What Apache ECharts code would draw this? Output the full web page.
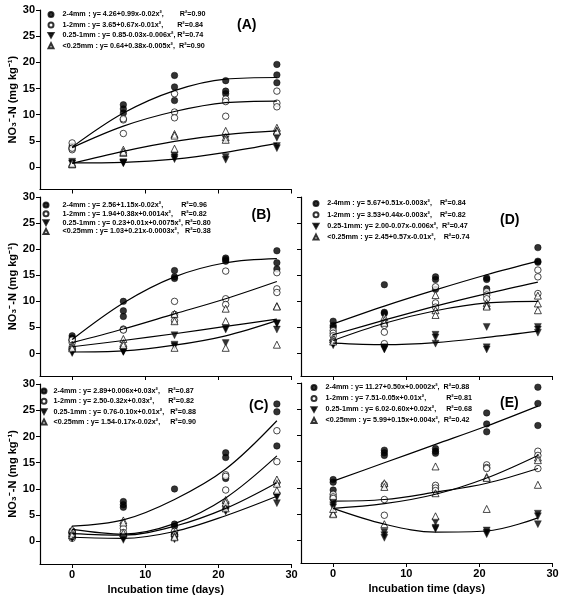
<!DOCTYPE html>
<html>
<head>
<meta charset="utf-8">
<script src="https://cdn.jsdelivr.net/npm/echarts@6/dist/echarts.min.js"></script>
<style>
html,body{margin:0;padding:0;background:#fff;}
#chart{width:563px;height:600px;}
</style>
</head>
<body>
<div id="chart"></div>
<script>
// ---------- data ----------
const days = [0, 7, 14, 21, 28];
const xTicks = [0, 10, 20, 30];
const yTicks = [0, 5, 10, 15, 20, 25, 30];
const classes = ['2-4mm', '1-2mm', '0.25-1mm', '<0.25mm'];

// Panel A (replicates per incubation day)
const A_24    = [[3.7,4.0,3.5],[11.9,11.1,10.3],[17.5,15.3,12.7],[16.5,14.5,14.0],[19.6,17.6,16.1]];
const A_12    = [[4.6,3.3,3.6],[9.0,6.4,9.2],[14.0,10.5,9.4],[13.0,12.5,9.7],[14.5,12.2,11.5]];
const A_025_1 = [[1.0,0.7,0.6],[0.8,0.7,0.9],[2.2,1.8,1.5],[1.9,1.4,5.3],[5.6,4.0,3.6]];
const A_lt025 = [[0.5,0.8,0.6],[3.3,2.7,2.9],[6.3,6.0,3.5],[6.9,5.7,5.2],[7.5,7.0,6.8]];
const A_fit_24 = [3.8, 10.3, 14.6, 16.8, 17.1];
const A_fit_12 = [3.7, 7.8, 10.6, 12.3, 12.6];
const A_fit_025_1 = [0.8, 0.9, 1.5, 2.8, 4.5];
const A_fit_lt025 = [0.7, 3.0, 4.9, 6.2, 6.9];
const legendA = [
  '2-4mm：y= 4.26+0.99x-0.02x²,        R²=0.90',
  '1-2mm : y= 3.65+0.67x-0.01x²,       R²=0.84',
  '0.25-1mm : y= 0.85-0.03x-0.006x², R²=0.74',
  '<0.25mm : y= 0.64+0.38x-0.005x²,  R²=0.90'
];

// Panel B
const B_24    = [[3.4,3.0,2.7],[10.0,8.2,7.1],[15.9,14.7,14.4],[18.3,18.0,17.7],[19.7,17.4,16.2]];
const B_12    = [[2.5,2.1,2.6],[4.7,4.6,4.5],[10.0,7.5,6.3],[15.8,10.5,9.4],[15.5,12.4,11.7]];
const B_025_1 = [[0.8,0.3,0.1],[0.4,0.3,0.5],[3.5,1.7,1.4],[4.9,4.6,2.0],[5.7,4.6,5.8]];
const B_lt025 = [[1.7,1.3,1.0],[2.8,2.0,1.6],[7.6,6.2,1.1],[8.6,6.2,1.1],[9.1,9.0,1.7]];
const B_fit_24 = [2.7, 9.7, 14.7, 17.4, 18.2];
const B_fit_12 = [2.1, 4.7, 7.6, 10.5, 13.8];
const B_fit_025_1 = [0.3, 0.5, 1.6, 3.4, 6.3];
const B_fit_lt025 = [1.3, 2.5, 3.8, 5.2, 6.6];
const legendB = [
  '2-4mm : y= 2.56+1.15x-0.02x²,         R²=0.96',
  '1-2mm : y= 1.94+0.38x+0.0014x²,    R²=0.82',
  '0.25-1mm : y= 0.23+0.01x+0.0075x², R²=0.80',
  '<0.25mm : y= 1.03+0.21x-0.0003x²,   R²=0.38'
];

// Panel C
const C_24    = [[2.0,1.7,1.5],[7.6,7.0,6.5],[10.0,3.3,2.9],[16.9,16.0,12.0],[26.2,24.7,18.2]];
const C_12    = [[1.9,0.6,0.9],[2.5,1.7,1.0],[1.9,1.3,1.1],[12.7,12.4,9.8],[21.1,15.2,11.2]];
const C_025_1 = [[1.0,0.6,0.8],[0.3,0.6,0.9],[0.4,0.7,1.0],[6.9,6.0,5.7],[8.7,8.4,7.3]];
const C_lt025 = [[2.3,1.6,1.2],[4.0,3.6,1.6],[1.6,1.0,0.8],[7.9,7.4,6.3],[11.8,11.0,9.7]];
const C_fit_24 = [2.9, 4.1, 8.0, 13.8, 23.0];
const C_fit_12 = [2.3, 1.4, 3.4, 8.3, 16.3];
const C_fit_025_1 = [0.8, 0.6, 1.9, 4.9, 8.6];
const C_fit_lt025 = [1.5, 1.2, 2.9, 6.3, 11.2];
const legendC = [
  '2-4mm : y= 2.89+0.006x+0.03x²,    R²=0.87',
  '1-2mm : y= 2.50-0.32x+0.03x²,       R²=0.82',
  '0.25-1mm : y= 0.76-0.10x+0.01x²,   R²=0.88',
  '<0.25mm : y= 1.54-0.17x-0.02x²,     R²=0.90'
];

// Panel D
const D_24    = [[6.2,5.4,5.0],[13.2,7.9,7.7],[14.7,14.2,12.3],[14.5,14.2,12.4],[20.3,17.7,17.5]];
const D_12    = [[4.4,3.9,3.4],[5.4,4.1,1.9],[12.8,9.7,8.9],[11.9,11.2,10.5],[16.0,14.7,11.5]];
const D_025_1 = [[1.9,1.6,2.0],[1.2,0.8,0.9],[3.6,3.1,1.9],[5.1,1.2,0.8],[5.1,4.6,4.0]];
const D_lt025 = [[3.1,2.7,2.3],[7.0,6.4,5.9],[11.2,8.3,7.4],[9.7,9.2,9.0],[11.1,9.6,8.3]];
const D_fit_24 = [5.7, 9.1, 12.2, 15.1, 17.7];
const D_fit_12 = [3.6, 6.4, 9.1, 11.5, 13.7];
const D_fit_025_1 = [2.0, 1.7, 2.1, 3.1, 4.3];
const D_fit_lt025 = [2.5, 5.8, 8.2, 9.7, 10.0];
const legendD = [
  '2-4mm : y= 5.67+0.51x-0.003x²,    R²=0.84',
  '1-2mm : y= 3.53+0.44x-0.003x²,    R²=0.82',
  '0.25-1mm: y= 2.00-0.07x-0.006x²,  R²=0.47',
  '<0.25mm : y= 2.45+0.57x-0.01x²,    R²=0.74'
];

// Panel E
const E_24    = [[11.6,11.1,9.6],[17.2,16.7,16.2],[17.5,17.0,16.6],[24.3,22.2,20.7],[29.2,26.1,21.9]];
const E_12    = [[8.8,8.3,8.0],[10.6,7.8,4.8],[10.5,10.0,9.5],[14.4,13.9,13.7],[17.0,16.2,13.7]];
const E_025_1 = [[7.2,6.7,6.3],[1.6,1.0,0.5],[3.5,2.4,2.2],[1.9,1.5,1.2],[5.1,4.6,3.1]];
const E_lt025 = [[5.2,5.0,6.0],[10.9,10.2,3.1],[14.1,9.0,4.6],[12.1,11.9,6.0],[15.8,15.3,10.6]];
const E_fit_24 = [11.3, 14.8, 18.3, 21.8, 25.6];
const E_fit_12 = [7.5, 7.8, 9.2, 10.9, 13.7];
const E_fit_025_1 = [6.1, 3.1, 1.6, 1.8, 4.3];
const E_fit_lt025 = [6.1, 7.0, 8.8, 11.9, 16.2];
const legendE = [
  '2-4mm : y= 11.27+0.50x+0.0002x²,  R²=0.88',
  '1-2mm : y= 7.51-0.05x+0.01x²,          R²=0.81',
  '0.25-1mm : y= 6.02-0.60x+0.02x²,     R²=0.68',
  '<0.25mm : y= 5.99+0.15x+0.004x²,  R²=0.42'
];

const yTitle = 'NO₃⁻-N (mg kg⁻¹)';
const xTitle = 'Incubation time (days)';

// ---------- layout ----------
const FONT = '"Liberation Sans", Arial, sans-serif';
const panels = [
  {tag:'(A)', grid:{left:40, top:10, width:251.5, height:179.5}, pts:[A_24,A_12,A_025_1,A_lt025], fit:[A_fit_24,A_fit_12,A_fit_025_1,A_fit_lt025], leg:legendA, lg:{left:47.5, top:11, gap:3.4, pad:4}, lab:{left:237, top:18.5}, yLab:true, xLab:false},
  {tag:'(B)', grid:{left:40, top:197, width:251.5, height:179}, pts:[B_24,B_12,B_025_1,B_lt025], fit:[B_fit_24,B_fit_12,B_fit_025_1,B_fit_lt025], leg:legendB, lg:{left:42.5, top:201.5, gap:1.8, pad:9}, lab:{left:251.5, top:208.5}, yLab:true, xLab:false},
  {tag:'(C)', grid:{left:40, top:384, width:251.5, height:180}, pts:[C_24,C_12,C_025_1,C_lt025], fit:[C_fit_24,C_fit_12,C_fit_025_1,C_fit_lt025], leg:legendC, lg:{left:40.5, top:387.5, gap:3.3, pad:2}, lab:{left:249, top:399}, yLab:true, xLab:true},
  {tag:'(D)', grid:{left:301, top:197, width:251.5, height:179}, pts:[D_24,D_12,D_025_1,D_lt025], fit:[D_fit_24,D_fit_12,D_fit_025_1,D_fit_lt025], leg:legendD, lg:{left:312.5, top:200, gap:4.2, pad:3.7}, lab:{left:500, top:213.5}, yLab:false, xLab:false},
  {tag:'(E)', grid:{left:301, top:383, width:251.5, height:180}, pts:[E_24,E_12,E_025_1,E_lt025], fit:[E_fit_24,E_fit_12,E_fit_025_1,E_fit_lt025], leg:legendE, lg:{left:310.5, top:384, gap:4.0, pad:4}, lab:{left:500, top:396}, yLab:false, xLab:true}
];

const symStyles = [
  {symbol:'circle', size:6.5, itemStyle:{color:'#000', borderColor:'#000', borderWidth:0.6}},
  {symbol:'circle', size:6.5, itemStyle:{color:'#fff', borderColor:'#000', borderWidth:0.9}},
  {symbol:'path://M0,0L10,0L5,9Z', size:7, itemStyle:{color:'#000', borderColor:'#000', borderWidth:0.4}},
  {symbol:'triangle', size:7, itemStyle:{color:'#fff', borderColor:'#000', borderWidth:0.9}}
];

const grids = [], xAxes = [], yAxes = [], series = [], legends = [], titles = [];

panels.forEach((p, i) => {
  grids.push(Object.assign({containLabel:false}, p.grid));
  xAxes.push({
    type:'value', gridIndex:i, min:-4.4, max:30,
    axisLine:{show:true, onZero:false, lineStyle:{color:'#000', width:1.2}},
    axisTick:{show:true, inside:false, length:4, customValues:xTicks, lineStyle:{color:'#000', width:1}},
    axisLabel:{show:p.xLab, customValues:xTicks, margin:5, color:'#000', fontSize:11, fontWeight:'bold', fontFamily:FONT},
    splitLine:{show:false},
    name: p.xLab ? xTitle : '', nameLocation:'middle', nameGap:20,
    nameTextStyle:{color:'#000', fontSize:11, fontWeight:'bold', fontFamily:FONT}
  });
  yAxes.push({
    type:'value', gridIndex:i, min:-4.3, max:30,
    axisLine:{show:true, onZero:false, lineStyle:{color:'#000', width:1.2}},
    axisTick:{show:true, inside:false, length:4, customValues:yTicks, lineStyle:{color:'#000', width:1}},
    axisLabel:{show:p.yLab, customValues:yTicks, margin:5, color:'#000', fontSize:11, fontWeight:'bold', fontFamily:FONT},
    splitLine:{show:false},
    name: p.yLab ? yTitle : '', nameLocation:'middle', nameGap:19, nameRotate:90,
    nameTextStyle:{color:'#000', fontSize:11, fontWeight:'bold', fontFamily:FONT}
  });
  const names = [];
  p.pts.forEach((arr, k) => {
    const data = [];
    days.forEach((d, j) => arr[j].forEach(v => data.push([d, v])));
    const st = symStyles[k];
    const nm = p.leg[k];
    names.push(nm);
    series.push({
      type:'scatter', name:nm, xAxisIndex:i, yAxisIndex:i, data:data,
      symbol:st.symbol, symbolSize:st.size, itemStyle:st.itemStyle, z:3,
      silent:true
    });
  });
  p.fit.forEach((f, k) => {
    series.push({
      type:'line', name:p.tag + ' fit ' + classes[k], xAxisIndex:i, yAxisIndex:i,
      data: days.map((d, j) => [d, f[j]]),
      smooth:0.35, showSymbol:false, symbol:'none',
      lineStyle:{color:'#000', width:1.2}, z:4, silent:true
    });
  });
  legends.push({
    orient:'vertical', left:p.lg.left, top:p.lg.top, padding:0,
    itemWidth:5, itemHeight:5, itemGap:p.lg.gap, selectedMode:false,
    data:names,
    textStyle:{color:'#000', fontSize:7.2, fontWeight:'bold', fontFamily:FONT, padding:[0,0,0,p.lg.pad]}
  });
  titles.push({
    text:p.tag, left:p.lab.left, top:p.lab.top, padding:0,
    textStyle:{color:'#000', fontSize:14, fontWeight:'bold', fontFamily:FONT}
  });
});

const chart = echarts.init(document.getElementById('chart'), null, {renderer:'canvas'});
chart.setOption({
  backgroundColor:'#fff',
  animation:false,
  title:titles,
  legend:legends,
  grid:grids,
  xAxis:xAxes,
  yAxis:yAxes,
  series:series
});
</script>
</body>
</html>
